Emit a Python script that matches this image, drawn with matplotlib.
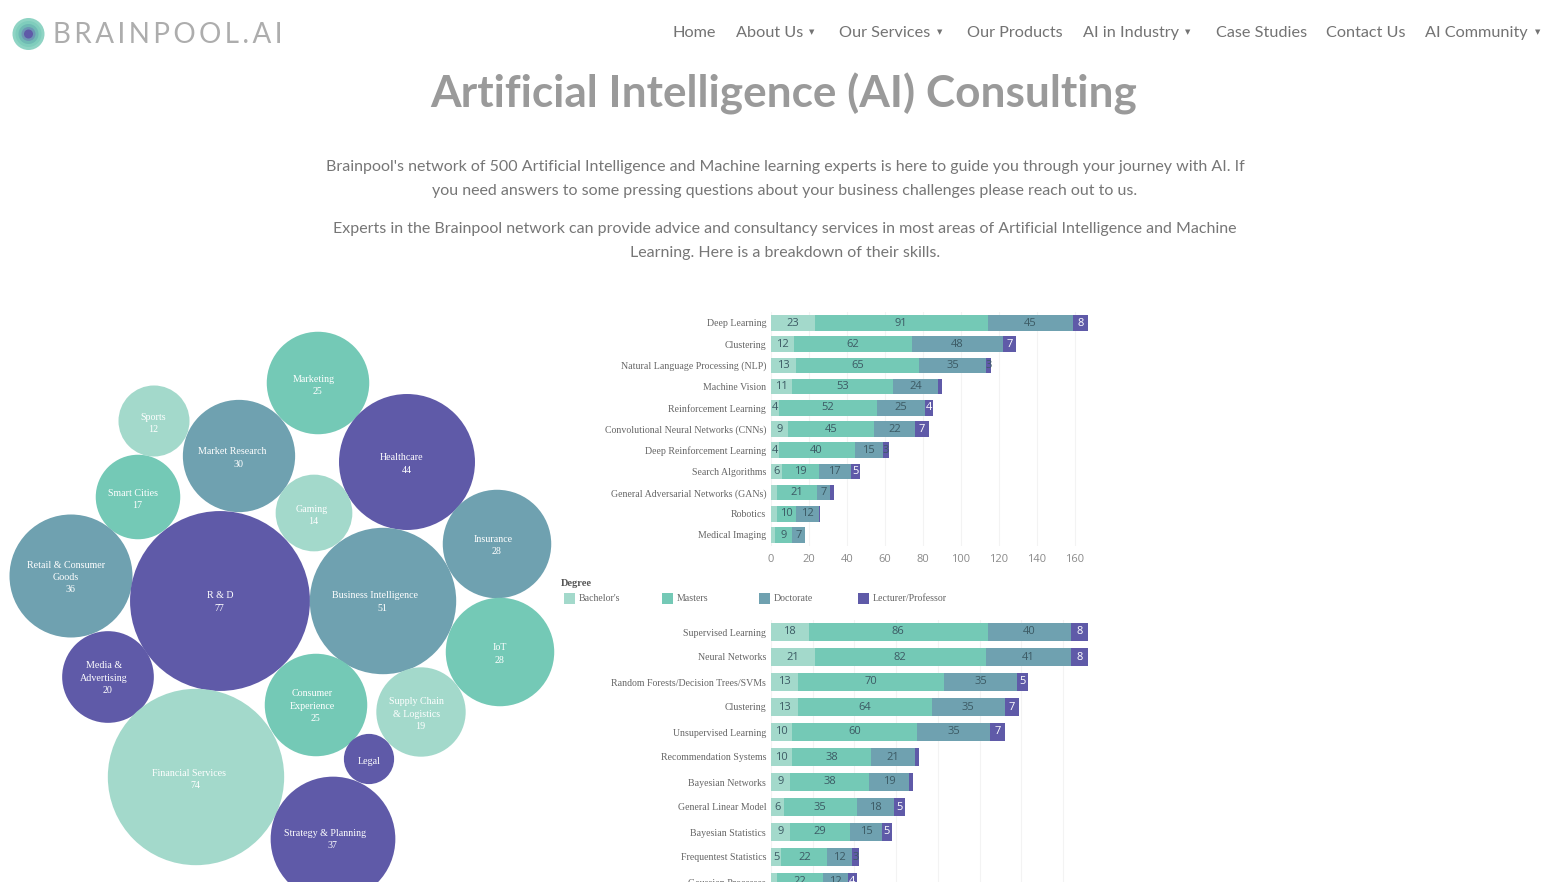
import matplotlib
matplotlib.use('Agg')
import matplotlib.pyplot as plt
from matplotlib.patches import Circle, Rectangle
import numpy as np

W, H = 1568, 882

LIGHT = '#a3d9cb'
TEAL = '#74c9b6'
STEEL = '#6fa1b0'
PURPLE = '#5f5aa8'
SEG_COLORS = [LIGHT, TEAL, STEEL, PURPLE]
DEGREES = ["Bachelor's", 'Masters', 'Doctorate', 'Lecturer/Professor']

# top chart
top_labels = ['Deep Learning', 'Clustering', 'Natural Language Processing (NLP)',
              'Machine Vision', 'Reinforcement Learning',
              'Convolutional Neural Networks (CNNs)', 'Deep Reinforcement Learning',
              'Search Algorithms', 'General Adversarial Networks (GANs)',
              'Robotics', 'Medical Imaging']
top_bachelor = [23, 12, 13, 11, 4, 9, 4, 6, 3, 3, 2]
top_masters = [91, 62, 65, 53, 52, 45, 40, 19, 21, 10, 9]
top_doctorate = [45, 48, 35, 24, 25, 22, 15, 17, 7, 12, 7]
top_lecturer = [8, 7, 3, 2, 4, 7, 3, 5, 2, 1, 0]
top_ticks = [0, 20, 40, 60, 80, 100, 120, 140, 160]

# bottom chart
bot_labels = ['Supervised Learning', 'Neural Networks',
              'Random Forests/Decision Trees/SVMs', 'Clustering',
              'Unsupervised Learning', 'Recommendation Systems', 'Bayesian Networks',
              'General Linear Model', 'Bayesian Statistics', 'Frequentest Statistics',
              'Gaussian Processes']
bot_bachelor = [18, 21, 13, 13, 10, 10, 9, 6, 9, 5, 3]
bot_masters = [86, 82, 70, 64, 60, 38, 38, 35, 29, 22, 22]
bot_doctorate = [40, 41, 35, 35, 35, 21, 19, 18, 15, 12, 12]
bot_lecturer = [8, 8, 5, 7, 7, 2, 2, 5, 5, 3, 4]
bot_ticks = [0, 20, 40, 60, 80, 100, 120, 140]

# bubbles
bubble_names = ['Marketing', 'Sports', 'Market Research', 'Healthcare', 'Smart Cities',
                'Gaming', 'Insurance', 'Retail & Consumer\nGoods', 'R & D',
                'Business Intelligence', 'IoT', 'Media &\nAdvertising',
                'Consumer\nExperience', 'Supply Chain\n& Logistics', 'Legal',
                'Financial Services', 'Strategy & Planning']
bubble_values = [25, 12, 30, 44, 17, 14, 28, 36, 77, 51, 28, 20, 25, 19, 6, 74, 37]
bubble_groups = [1, 0, 2, 3, 1, 0, 2, 2, 3, 2, 1, 3, 1, 0, 3, 0, 3]
bubble_show_value = [True] * 14 + [False] + [True] * 2

# layout, in reference pixels
bubble_x = [318, 154, 239, 407, 138, 314, 497, 71, 220, 383, 500, 108, 316, 421, 369, 196, 333]
bubble_y = [383, 421, 456, 462, 497, 513, 544, 576, 601, 601, 652, 677, 705, 712, 759, 777, 839]
name_x = [314, 153, 232, 402, 133, 312, 493, 66, 220, 375, 500, 104, 312, 417, 369, 189, 325]
name_y = [378, 416, 451, 457, 492, 508, 538, 564, 595, 595, 647, 665, 693, 701, 760, 772, 832]
R_PER_SQRT = 10.25

nav_items = [('Home', 673), ('About Us', 736), ('Our Services', 839), ('Our Products', 967),
             ('AI in Industry', 1083), ('Case Studies', 1216), ('Contact Us', 1326),
             ('AI Community', 1425)]
nav_arrows = [809, 937, 1185, 1535]

para_lines = [
    ("Brainpool's network of 500 Artificial Intelligence and Machine learning experts is here to guide you through your journey with AI. If", 165),
    ('you need answers to some pressing questions about your business challenges please reach out to us.', 190),
    ('Experts in the Brainpool network can provide advice and consultancy services in most areas of Artificial Intelligence and Machine', 227),
    ('Learning. Here is a breakdown of their skills.', 252),
]


def pixel_axes(fig, left, top, right, bottom):
    return fig.add_axes([left / W, 1 - bottom / H, (right - left) / W, (bottom - top) / H])


def draw_bars(ax, labels, series, ticks, px_per_unit, width_px, row_px, bar_px):
    rows = np.arange(len(labels))
    left = np.zeros(len(labels))
    for s, values in enumerate(series):
        values = np.array(values, dtype=float)
        ax.barh(rows, values, left=left, height=bar_px / row_px, color=SEG_COLORS[s], zorder=3)
        for r, v in enumerate(values):
            # the small segments carry no label
            if v < 3 or (s == 0 and v == 3):
                continue
            col = 'white' if s == 3 and v > 3 else '#3c5a64'
            ax.text(left[r] + v / 2, r, f'{int(v)}', ha='center', va='center', fontsize=8,
                    color=col, family='Open Sans', zorder=4, clip_on=False)
        left += values
    ax.set_yticks(rows)
    ax.set_yticklabels(labels, family='Liberation Serif', fontsize=7.1, color='#656565')
    ax.tick_params(axis='both', length=0, pad=3.5)
    ax.set_xticks(ticks)
    ax.set_xlim(0, width_px / px_per_unit)
    ax.xaxis.grid(True, color='#f3f3f3', linewidth=0.8, zorder=0)
    ax.set_axisbelow(True)
    ax.patch.set_alpha(0)
    for spine in ax.spines.values():
        spine.set_visible(False)


fig = plt.figure(figsize=(W / 100, H / 100), dpi=100, facecolor='white')

page = fig.add_axes([0, 0, 1, 1])
page.set_xlim(0, W)
page.set_ylim(H, 0)
page.axis('off')

# logo
for rad, col in [(16, '#8fd4c4'), (13, '#7fcdbc'), (10, '#6fb9b4'), (7, '#6c96b4'), (4.5, '#5f5aa8')]:
    page.add_patch(Circle((28.5, 34), rad, color=col, lw=0))
page.text(53, 35, '\u200a\u200a'.join('BRAINPOOL.AI'), family='Lato', fontsize=20,
          color='#adadad', va='center', ha='left')

# nav
for name, x in nav_items:
    page.text(x, 33, name, family='Lato', fontsize=11.7, color='#737373', va='center', ha='left')
for x in nav_arrows:
    page.text(x, 32, '▼', family='DejaVu Sans', fontsize=5, color='#737373', va='center', ha='left')

page.text(784, 94, 'Artificial Intelligence (AI) Consulting', family='Lato', weight='bold',
          fontsize=31.8, color='#9a9a9a', ha='center', va='center')
for line, y in para_lines:
    page.text(785, y + 1.5, line, family='Lato', fontsize=11.5, color='#767676', ha='center', va='center')

# bubbles
for i, name in enumerate(bubble_names):
    r = R_PER_SQRT * np.sqrt(bubble_values[i])
    page.add_patch(Circle((bubble_x[i], bubble_y[i]), r, color=SEG_COLORS[bubble_groups[i]], lw=0))
    lines = name.split('\n')
    if bubble_show_value[i]:
        lines.append(str(bubble_values[i]))
    for k, text in enumerate(lines):
        x = name_x[i]
        if bubble_show_value[i] and k == len(lines) - 1:
            x = bubble_x[i] - 0.5
        page.text(x, name_y[i] + 1 + k * 12.2, text, family='Liberation Serif', fontsize=7.2,
                  color='white', ha='center', va='center')

# legend
page.text(561, 583, 'Degree', family='Liberation Serif', weight='bold', fontsize=7.5,
          color='#555555', va='center')
for x, name, col in zip([564, 662, 759, 858], DEGREES, SEG_COLORS):
    page.add_patch(Rectangle((x, 592.5), 11, 11, color=col, lw=0))
    page.text(x + 15, 598.5, name, family='Liberation Serif', fontsize=7.1, color='#656565', va='center')

# top bars
top_ax = pixel_axes(fig, 771, 312.4, 1100, 545.6)
draw_bars(top_ax, top_labels, [top_bachelor, top_masters, top_doctorate, top_lecturer],
          top_ticks, 1.9, 329, 21.2, 15.5)
top_ax.set_ylim(10.5, -0.5)
top_ax.set_xticklabels(top_ticks, family='Open Sans', fontsize=8, color='#8a8a8a')
top_ax.tick_params(axis='x', pad=6)

# bottom bars, runs off the page like the screenshot does
bot_ax = pixel_axes(fig, 771, 619.5, 1100, 882)
draw_bars(bot_ax, bot_labels, [bot_bachelor, bot_masters, bot_doctorate, bot_lecturer],
          bot_ticks, 2.086, 329, 25, 18.5)
bot_ax.set_ylim(10.0, -0.5)
bot_ax.tick_params(axis='x', labelbottom=False)

fig.savefig('out.png', dpi=100, facecolor='white')
